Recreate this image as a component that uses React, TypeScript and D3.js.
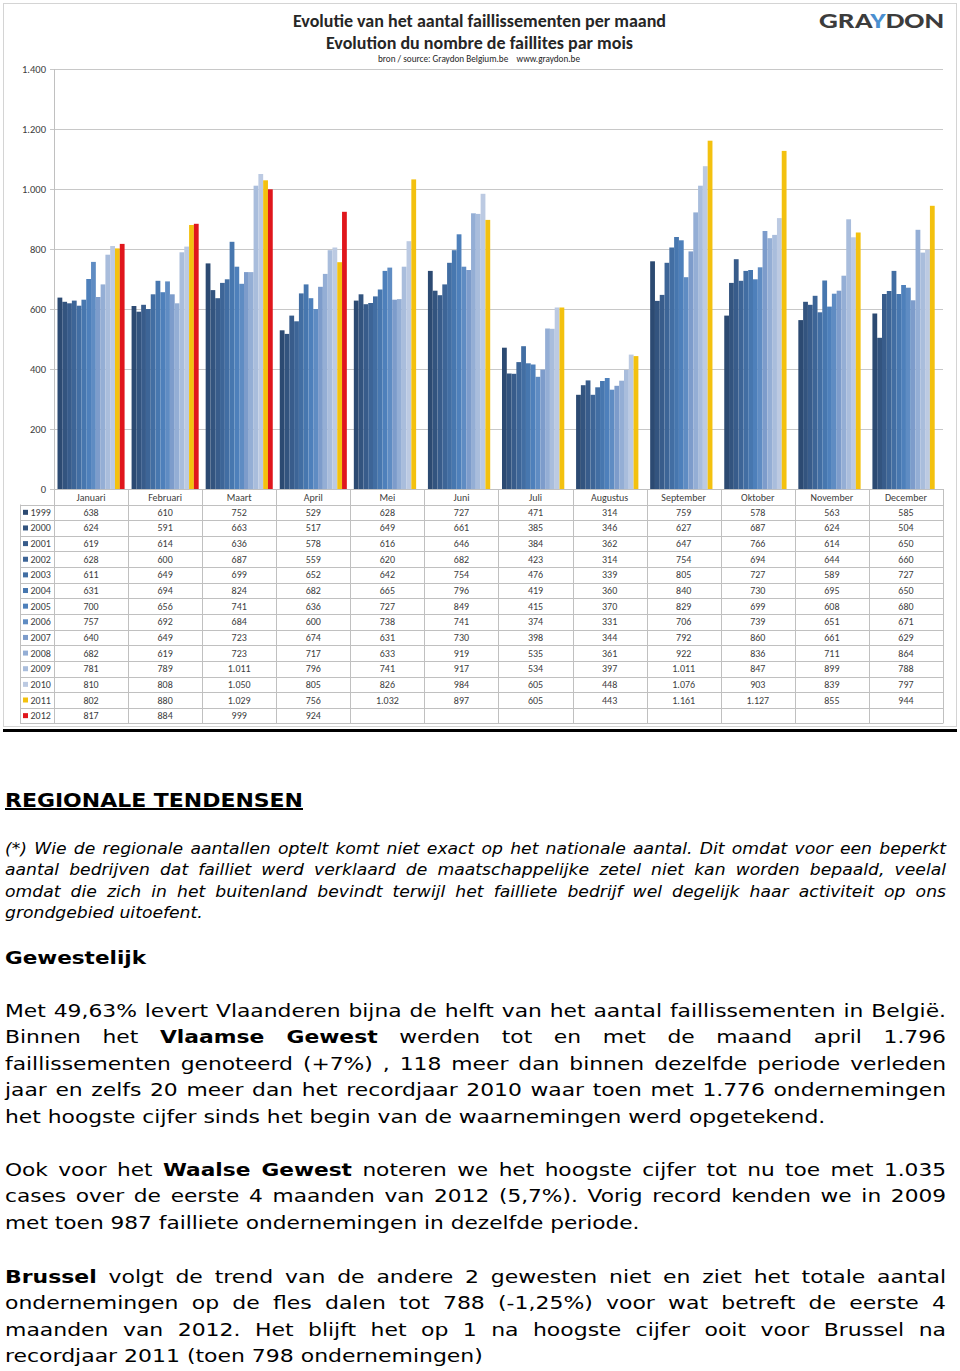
import React, { useLayoutEffect, useRef } from "react";
import * as d3 from "d3";

const months = ["Januari","Februari","Maart","April","Mei","Juni","Juli","Augustus","September","Oktober","November","December"];
const years = ["1999","2000","2001","2002","2003","2004","2005","2006","2007","2008","2009","2010","2011","2012"];
const v1999 = [638,610,752,529,628,727,471,314,759,578,563,585];
const v2000 = [624,591,663,517,649,661,385,346,627,687,624,504];
const v2001 = [619,614,636,578,616,646,384,362,647,766,614,650];
const v2002 = [628,600,687,559,620,682,423,314,754,694,644,660];
const v2003 = [611,649,699,652,642,754,476,339,805,727,589,727];
const v2004 = [631,694,824,682,665,796,419,360,840,730,695,650];
const v2005 = [700,656,741,636,727,849,415,370,829,699,608,680];
const v2006 = [757,692,684,600,738,741,374,331,706,739,651,671];
const v2007 = [640,649,723,674,631,730,398,344,792,860,661,629];
const v2008 = [682,619,723,717,633,919,535,361,922,836,711,864];
const v2009 = [781,789,1011,796,741,917,534,397,1011,847,899,788];
const v2010 = [810,808,1050,805,826,984,605,448,1076,903,839,797];
const v2011 = [802,880,1029,756,1032,897,605,443,1161,1127,855,944];
const v2012: (number | null)[] = [817,884,999,924,null,null,null,null,null,null,null,null];
const seriesValues: (number | null)[][] = [v1999,v2000,v2001,v2002,v2003,v2004,v2005,v2006,v2007,v2008,v2009,v2010,v2011,v2012];
const seriesColors = ["#2c4a72","#33547f","#385c8b","#3d6597","#426ea3","#4777af","#4e80bb","#5f8cc3","#7d9ccb","#94aed5","#a9bddc","#bccae2","#f3c10f","#e0161c"];
const yTicks = [0,200,400,600,800,1000,1200,1400];

const fmt = d3.formatLocale({ decimal: ",", thousands: ".", grouping: [3], currency: ["€", ""] }).format(",d");

type Seg = { t: string; b?: boolean };

const italicLines: Seg[][] = [
  [{ t: "(*) Wie de regionale aantallen optelt komt niet exact op het nationale aantal. Dit omdat voor een beperkt" }],
  [{ t: "aantal bedrijven dat failliet werd verklaard de maatschappelijke zetel niet kan worden bepaald, veelal" }],
  [{ t: "omdat die zich in het buitenland bevindt terwijl het failliete bedrijf wel degelijk haar activiteit op ons" }],
  [{ t: "grondgebied uitoefent." }],
];
const para2: Seg[][] = [
  [{ t: "Met 49,63% levert Vlaanderen bijna de helft van het aantal faillissementen in België." }],
  [{ t: "Binnen het " }, { t: "Vlaamse Gewest", b: true }, { t: " werden tot en met de maand april 1.796" }],
  [{ t: "faillissementen genoteerd (+7%) , 118 meer dan binnen dezelfde periode verleden" }],
  [{ t: "jaar en zelfs 20 meer dan het recordjaar 2010 waar toen met 1.776 ondernemingen" }],
  [{ t: "het hoogste cijfer sinds het begin van de waarnemingen werd opgetekend." }],
];
const para3: Seg[][] = [
  [{ t: "Ook voor het " }, { t: "Waalse Gewest", b: true }, { t: " noteren we het hoogste cijfer tot nu toe met 1.035" }],
  [{ t: "cases over de eerste 4 maanden van 2012 (5,7%). Vorig record kenden we in 2009" }],
  [{ t: "met toen 987 failliete ondernemingen in dezelfde periode." }],
];
const para4: Seg[][] = [
  [{ t: "Brussel", b: true }, { t: " volgt de trend van de andere 2 gewesten niet en ziet het totale aantal" }],
  [{ t: "ondernemingen op de fles dalen tot 788 (-1,25%) voor wat betreft de eerste 4" }],
  [{ t: "maanden van 2012. Het blijft het op 1 na hoogste cijfer ooit voor Brussel na" }],
  [{ t: "recordjaar 2011 (toen 798 ondernemingen)" }],
];

const BODY_FONT = "'DejaVu Sans', Verdana, sans-serif";
const CHART_FONT = "Carlito, Lato, 'Open Sans', sans-serif";

function Para({ lines, y0, lh, lastWidth, fontSize, italic }: { lines: Seg[][]; y0: number; lh: number; lastWidth: number; fontSize: number; italic?: boolean }) {
  const ref = useRef<SVGGElement>(null);
  const x0 = 5, right = 946;
  useLayoutEffect(() => {
    const g = ref.current;
    if (!g) return;
    const texts = Array.from(g.querySelectorAll("text")) as SVGTextElement[];
    texts.forEach((t) => (t.style.wordSpacing = "0px"));
    const last = texts[texts.length - 1];
    const s = lastWidth / last.getComputedTextLength();
    g.setAttribute("transform", `translate(${x0},0) scale(${s},1)`);
    texts.slice(0, -1).forEach((t) => {
      const w = t.getComputedTextLength();
      const n = ((t.textContent || "").replace(/\s+/g, " ").trim().match(/ /g) || []).length;
      if (n > 0) t.style.wordSpacing = ((right - x0) / s - w) / n + "px";
    });
  }, []);
  return (
    <g ref={ref} transform={`translate(${x0},0)`}>
      {lines.map((segs, i) => (
        <text key={i} x={0} y={y0 + i * lh} fontFamily={BODY_FONT} fontSize={fontSize} fontStyle={italic ? "italic" : "normal"} fill="#000">
          {segs.map((s, j) => (
            <tspan key={j} fontWeight={s.b ? "bold" : "normal"}>{s.t}</tspan>
          ))}
        </text>
      ))}
    </g>
  );
}

export default function App() {
  const W = 960, H = 1371;
  const y = d3.scaleLinear().domain([0, 1400]).range([489, 69]);
  const x = d3.scaleBand<string>().domain(months).range([54, 943]).padding(0);
  const bw = x.bandwidth();
  const xi = d3.scaleBand<string>().domain(years).range([3.5, bw - 3.5]).padding(0);
  const headerTop = 489, rowTop = 504.5, rowH = 15.64;
  const tableBottom = rowTop + rowH * years.length;

  return (
    <svg width={W} height={H} style={{ position: "absolute", left: 0, top: 0, background: "#fff" }}>
      <rect x={3.5} y={3.5} width={953} height={723} fill="#fff" stroke="#d4d4d4" />
      {/* gridlines */}
      {yTicks.map((t) => (
        <g key={t}>
          <line x1={50} x2={943} y1={Math.round(y(t)) + 0.5} y2={Math.round(y(t)) + 0.5} stroke="#c8c8c8" />
          <text x={46} y={y(t)} dy="0.35em" textAnchor="end" fontFamily={CHART_FONT} fontSize={10.5} fill="#404040">{fmt(t)}</text>
        </g>
      ))}
      <line x1={54.5} x2={54.5} y1={69} y2={tableBottom} stroke="#c0c0c0" />
      {/* bars */}
      {months.map((m, mi) => (
        <g key={m} transform={`translate(${x(m)},0)`}>
          {years.map((yr, si) => {
            const v = seriesValues[si][mi];
            if (v == null) return null;
            return <rect key={yr} x={xi(yr)} y={y(v)} width={xi.bandwidth()} height={y(0) - y(v)} fill={seriesColors[si]} />;
          })}
        </g>
      ))}
      {/* data table */}
      <g fontFamily={CHART_FONT} fontSize={10} fill="#404040">
        <line x1={54} x2={943} y1={headerTop + 0.5} y2={headerTop + 0.5} stroke="#c0c0c0" />
        {d3.range(years.length + 1).map((i) => (
          <line key={i} x1={20} x2={943} y1={Math.round(rowTop + i * rowH) + 0.5} y2={Math.round(rowTop + i * rowH) + 0.5} stroke="#c0c0c0" />
        ))}
        <line x1={20.5} x2={20.5} y1={rowTop} y2={tableBottom} stroke="#c0c0c0" />
        {months.map((m) => (
          <line key={m} x1={Math.round((x(m) as number) + bw) + 0.5} x2={Math.round((x(m) as number) + bw) + 0.5} y1={headerTop} y2={tableBottom} stroke="#c0c0c0" />
        ))}
        {months.map((m) => (
          <text key={m} x={(x(m) as number) + bw / 2} y={headerTop + 8} dy="0.35em" textAnchor="middle">{m}</text>
        ))}
        {years.map((yr, si) => (
          <g key={yr}>
            <rect x={23} y={rowTop + si * rowH + rowH / 2 - 2.5} width={5} height={5} fill={seriesColors[si]} />
            <text x={30.5} y={rowTop + si * rowH + rowH / 2} dy="0.35em">{yr}</text>
            {months.map((m, mi) => {
              const v = seriesValues[si][mi];
              if (v == null) return null;
              return (
                <text key={m} x={(x(m) as number) + bw / 2} y={rowTop + si * rowH + rowH / 2} dy="0.35em" textAnchor="middle">{fmt(v)}</text>
              );
            })}
          </g>
        ))}
      </g>
      {/* titles */}
      <g fontFamily={CHART_FONT} fill="#262626" textAnchor="middle">
        <text x={479.5} y={27} fontSize={17.5} fontWeight="bold" textLength={373} lengthAdjust="spacingAndGlyphs">Evolutie van het aantal faillissementen per maand</text>
        <text x={479.5} y={49} fontSize={17.5} fontWeight="bold" textLength={307} lengthAdjust="spacingAndGlyphs">Evolution du nombre de faillites par mois</text>
        <text x={479} y={62} fontSize={9.2}>bron / source: Graydon Belgium.be{"\u00a0\u00a0\u00a0\u00a0"}www.graydon.be</text>
      </g>
      <text x={819} y={28} fontFamily={CHART_FONT} fontSize={22} fontWeight="bold" fill="#3c3c3c" textLength={125} lengthAdjust="spacingAndGlyphs">
        GRA<tspan fill="#4a8fd0">Y</tspan>DON
      </text>
      {/* separator */}
      <rect x={3} y={729} width={954} height={3} fill="#000" />
      {/* text */}
      <text x={5} y={807} fontFamily={BODY_FONT} fontSize={20} fontWeight="bold" textDecoration="underline" textLength={298} lengthAdjust="spacingAndGlyphs">REGIONALE TENDENSEN</text>
      <Para lines={italicLines} y0={854} lh={21.4} lastWidth={198} fontSize={15} italic />
      <text x={5} y={964} fontFamily={BODY_FONT} fontSize={18} fontWeight="bold" textLength={141} lengthAdjust="spacingAndGlyphs">Gewestelijk</text>
      <Para lines={para2} y0={1017} lh={26.5} lastWidth={821} fontSize={17} />
      <Para lines={para3} y0={1176} lh={26.5} lastWidth={635} fontSize={17} />
      <Para lines={para4} y0={1283} lh={26.5} lastWidth={478} fontSize={17} />
    </svg>
  );
}
